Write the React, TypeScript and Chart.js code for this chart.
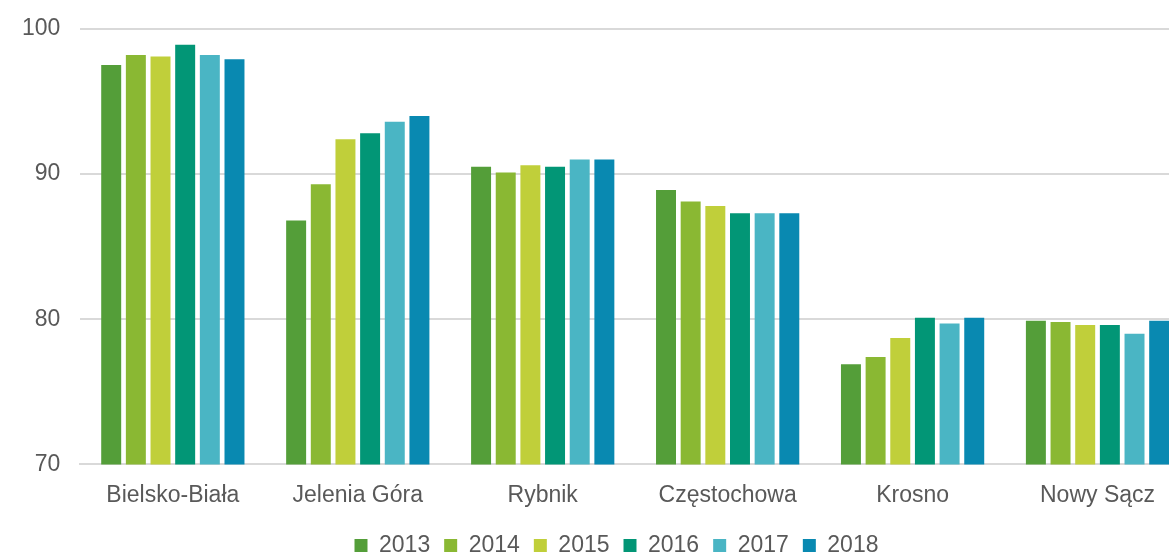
import React, { useEffect, useRef } from "react";
import { Chart, registerables } from "chart.js";

Chart.register(...registerables);

const categories = ["Bielsko-Biała", "Jelenia Góra", "Rybnik", "Częstochowa", "Krosno", "Nowy Sącz"];
const years = ["2013", "2014", "2015", "2016", "2017", "2018"];
const v2013 = [97.5, 86.8, 90.5, 88.9, 76.9, 79.9];
const v2014 = [98.2, 89.3, 90.1, 88.1, 77.4, 79.8];
const v2015 = [98.1, 92.4, 90.6, 87.8, 78.7, 79.6];
const v2016 = [98.9, 92.8, 90.5, 87.3, 80.1, 79.6];
const v2017 = [98.2, 93.6, 91.0, 87.3, 79.7, 79.0];
const v2018 = [97.9, 94.0, 91.0, 87.3, 80.1, 79.9];
const seriesValues = [v2013, v2014, v2015, v2016, v2017, v2018];
const colors = ["#549E39", "#8AB833", "#C0CF3A", "#029676", "#4AB5C4", "#0989B1"];
const yTicks = [70, 80, 90, 100];

const FONT = "'Liberation Sans', Arial, sans-serif";
const W = 1233;
const H = 572;

export default function App() {
  const ref = useRef<HTMLCanvasElement | null>(null);
  useEffect(() => {
    document.body.style.margin = "0";
    document.body.style.overflow = "hidden";
    const ctx = ref.current!;
    const chart = new Chart(ctx, {
      type: "bar",
      data: {
        labels: categories,
        datasets: years.map((y, i) => ({
          label: y,
          data: seriesValues[i],
          backgroundColor: colors[i],
          borderWidth: 0,
          barPercentage: 0.81,
          categoryPercentage: 0.8,
          yAxisID: "y",
        })),
      },
      options: {
        animation: false,
        responsive: false,
        layout: { padding: { left: 2, right: 2, top: 7, bottom: 0 } },
        font: { family: FONT },
        plugins: {
          legend: {
            position: "bottom",
            labels: {
              boxWidth: 13,
              boxHeight: 13,
              padding: 14,
              color: "#595959",
              font: { size: 23, family: FONT },
            },
          },
          tooltip: { enabled: false },
        },
        scales: {
          x: {
            grid: { display: false, drawTicks: false },
            border: { display: true, color: "#d9d9d9", width: 2 },
            ticks: {
              color: "#595959",
              padding: 17,
              font: { size: 23, family: FONT },
              maxRotation: 0,
            },
            afterFit: (axis: any) => {
              axis.height -= 6;
            },
          },
          y: {
            min: 70,
            max: 100,
            afterBuildTicks: (axis: any) => {
              axis.ticks = yTicks.map((v) => ({ value: v }));
            },
            grid: { color: "#d9d9d9", lineWidth: 2, drawTicks: false },
            border: { display: false },
            ticks: {
              color: "#595959",
              padding: 20,
              font: { size: 23, family: FONT },
            },
          },
          yRight: {
            type: "linear",
            position: "right",
            display: true,
            grid: { display: false, drawTicks: false },
            border: { display: false },
            ticks: { display: false },
            afterFit: (axis: any) => {
              axis.width = 41;
            },
          },
        },
      },
    });
    return () => chart.destroy();
  }, []);
  return (
    <div style={{ position: "absolute", left: 0, top: 0, width: 1169, height: 554, overflow: "hidden" }}>
      <canvas
        ref={ref}
        width={W}
        height={H}
        style={{ width: W, height: H, display: "block", marginTop: -5 }}
      />
    </div>
  );
}
